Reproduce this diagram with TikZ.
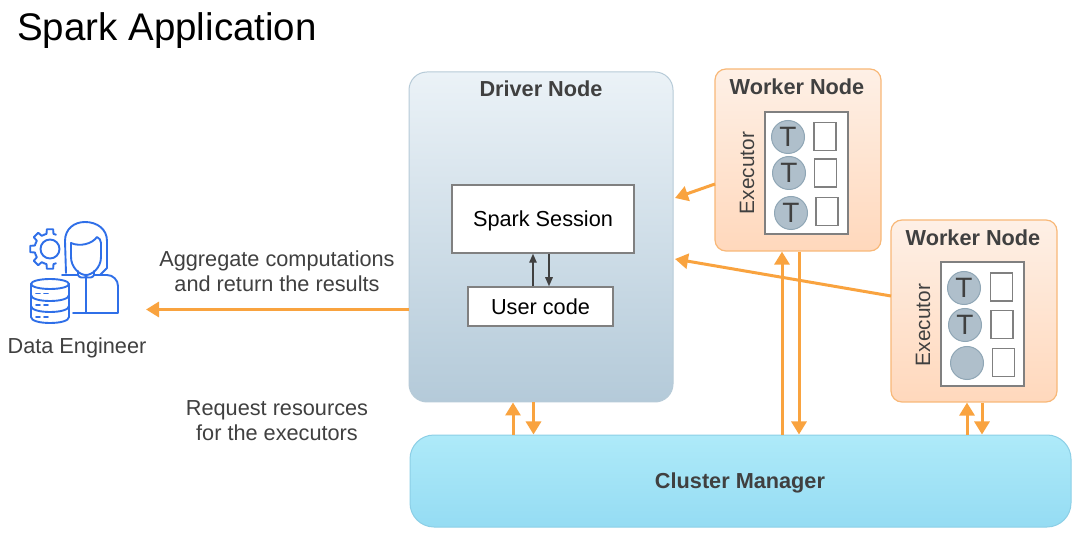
\documentclass[tikz,border=0pt]{standalone}
\usepackage{fontspec}
\setmainfont{Liberation Sans}
\usetikzlibrary{arrows.meta}
\definecolor{flow}{HTML}{F9A33F}
\definecolor{txt}{HTML}{404040}
\definecolor{icon}{HTML}{2F6FE8}
\definecolor{edge}{HTML}{808080}
\definecolor{driveredge}{HTML}{B7CBD8}
\definecolor{drivertop}{HTML}{EBF2F7}
\definecolor{driverbot}{HTML}{B4CAD9}
\definecolor{clusteredge}{HTML}{8CCFE6}
\definecolor{clustertop}{HTML}{AEEAF9}
\definecolor{clusterbot}{HTML}{95DCF3}
\definecolor{workeredge}{HTML}{F8B878}
\definecolor{workertop}{HTML}{FEF0E6}
\definecolor{workerbot}{HTML}{FFD8BC}
\definecolor{taskedge}{HTML}{8FA6B5}
\definecolor{taskfill}{HTML}{AFBFCB}
\tikzset{
  x=1pt,y=-1pt,
  box/.style={draw=edge,fill=white,line width=1.5pt,inner sep=0pt,font=\fontsize{21.7}{26}\selectfont,text=black,text height=16pt,text depth=0pt},
  driverbox/.style={draw=driveredge,rounded corners=18pt,top color=drivertop,bottom color=driverbot,line width=1pt,inner sep=0pt},
  clusterbox/.style={draw=clusteredge,rounded corners=24pt,top color=clustertop,bottom color=clusterbot,line width=1pt,inner sep=0pt},
  workerbox/.style={draw=workeredge,rounded corners=11pt,top color=workertop,bottom color=workerbot,line width=1.2pt,inner sep=0pt},
  execbox/.style={draw=edge,fill=white,line width=1.5pt,inner sep=0pt},
  slotbox/.style={draw=edge,fill=white,line width=1.5pt,inner sep=0pt,minimum width=22pt,minimum height=28pt},
  taskdot/.style={circle,draw=taskedge,fill=taskfill,line width=1pt,inner sep=0pt,minimum size=33pt,text=txt,font=\fontsize{28}{28}\selectfont},
  title/.style={font=\bfseries\fontsize{21.7}{26}\selectfont,text=txt,inner sep=0pt},
  label/.style={font=\fontsize{21.7}{24.8}\selectfont,text=txt,inner sep=0pt,align=center},
  execlabel/.style={font=\fontsize{20.8}{24}\selectfont,text=txt,inner sep=0pt,rotate=90},
  flowline/.style={draw=flow,line width=3pt,-{Triangle[length=13pt,width=15pt]}},
  thinflow/.style={draw=txt,line width=1.4pt,-{Triangle[length=9pt,width=7.5pt]}},
  iconline/.style={draw=icon,line width=1.9pt,line cap=round,line join=round},
}
\begin{document}
\begin{tikzpicture}
\useasboundingbox (0,0) rectangle (1079,534);
\fill[white] (0,0) rectangle (1079,534);

\node[anchor=west,inner sep=0pt,text=black,font=\fontsize{38.5}{42}\selectfont] (heading) at (17,31) {Spark Application};

% main boxes
\node[driverbox,minimum width=264pt,minimum height=330pt] (driver) at (541,237) {};
\node[title] (drivertitle) at (541,89) {Driver Node};
\node[box,minimum width=182pt,minimum height=68pt] (session) at (543,219) {Spark Session};
\node[box,minimum width=145pt,minimum height=39pt] (user) at (540.5,306.5) {User code};

\node[clusterbox,minimum width=661pt,minimum height=92pt] (cluster) at (740.5,481) {};
\node[title] (clustertitle) at (740,483) {Cluster Manager};

% worker 1
\node[workerbox,minimum width=166pt,minimum height=182pt] (w1) at (798,160) {};
\node[title] (w1title) at (797,87) {Worker Node};
\node[execlabel] (w1exec) at (747,173) {Executor};
\node[execbox,minimum width=83pt,minimum height=122pt] (w1box) at (806.5,173) {};
\node[taskdot] (w1t1) at (788,137) {T};
\node[taskdot] (w1t2) at (789,173) {T};
\node[taskdot] (w1t3) at (791,213) {T};
\node[slotbox] (w1s1) at (825,136.5) {};
\node[slotbox] (w1s2) at (825.5,173) {};
\node[slotbox] (w1s3) at (827,211.5) {};

% worker 2
\node[workerbox,minimum width=166pt,minimum height=182pt] (w2) at (974,311) {};
\node[title] (w2title) at (973,238) {Worker Node};
\node[execlabel] (w2exec) at (923,325) {Executor};
\node[execbox,minimum width=83pt,minimum height=124pt] (w2box) at (982.5,324) {};
\node[taskdot] (w2t1) at (964,288) {T};
\node[taskdot] (w2t2) at (965,325) {T};
\node[taskdot] (w2t3) at (967,363) {};
\node[slotbox] (w2s1) at (1001.5,287) {};
\node[slotbox] (w2s2) at (1002,324.5) {};
\node[slotbox] (w2s3) at (1003.5,362.5) {};

% labels
\node[label] (aggr) at (277,271) {Aggregate computations\\and return the results};
\node[label] (req) at (277,420.5) {Request resources\\for the executors};
\node[label] (de) at (77,348) {Data Engineer};

% connector columns
\coordinate (cu) at (533,0);
\coordinate (cd) at (549,0);
\coordinate (du) at (513,0);
\coordinate (dd) at (533.5,0);
\coordinate (wau) at (782,0);
\coordinate (wad) at (799,0);
\coordinate (wbu) at (967,0);
\coordinate (wbd) at (982,0);
\coordinate (deport) at (146,309.5);
\coordinate (w1out) at (715,184);
\coordinate (w1in) at (675,198);
\coordinate (w2out) at (891,296);
\coordinate (w2in) at (675,259);

% connectors
\draw[thinflow] (user.north -| cu) -- (session.south -| cu);
\draw[thinflow] (session.south -| cd) -- (user.north -| cd);
\draw[flowline] (w1out) -- (w1in);
\draw[flowline] (w2out) -- (w2in);
\draw[flowline] (driver.west |- deport) -- (deport);
\draw[flowline] (cluster.north -| du) -- (driver.south -| du);
\draw[flowline] (driver.south -| dd) -- (cluster.north -| dd);
\draw[flowline] (cluster.north -| wau) -- (w1.south -| wau);
\draw[flowline] (w1.south -| wad) -- (cluster.north -| wad);
\draw[flowline] (cluster.north -| wbu) -- (w2.south -| wbu);
\draw[flowline] (w2.south -| wbd) -- (cluster.north -| wbd);

% data engineer icon: gear
\begin{scope}[shift={(50,249)},iconline]
  \draw (0,0) circle (9.5);
  \foreach \a in {90,135,180,225,270}{
    \draw (\a-22.5:15.5) -- (\a-13:15.5) -- (\a-9:20) -- (\a+9:20) -- (\a+13:15.5) -- (\a+22.5:15.5);
  }
\end{scope}
% person
\draw[iconline] (66,273) -- (65,241) .. controls (65,229) and (74,222) .. (85,222)
  .. controls (97,222) and (107,229) .. (107,241) -- (107,268) -- (100,275);
\draw[iconline] (71,243) .. controls (80,247) and (92,244) .. (97,237)
  .. controls (99,238) and (101,240) .. (101,243) -- (101,257)
  .. controls (101,268) and (92,275) .. (86,275) .. controls (79,275) and (71,267) .. (71,257) -- cycle;
\draw[iconline] (78,271) -- (78,275) .. controls (79,278) and (83,278) .. (86,277)
  .. controls (89,278) and (93,278) .. (94,275) -- (94,271);
\draw[iconline] (62,275) -- (78,275);
\draw[iconline] (94,275) -- (107,275) .. controls (113,275) and (118,280) .. (118,286) -- (118,313) -- (73,313);
\draw[iconline] (86,277) -- (86,313);
% database
\begin{scope}[iconline]
  \draw (50,284) ellipse [x radius=19,y radius=5];
  \draw (31,284) -- (31,317) .. controls (31,325) and (69,325) .. (69,317) -- (69,284);
  \draw (31,295) .. controls (31,303) and (69,303) .. (69,295);
  \draw (31,306) .. controls (31,314) and (69,314) .. (69,306);
  \foreach \y in {293.5,305,317}{
    \draw (36,\y) -- (40,\y);
    \draw (44,\y) -- (48,\y);
  }
\end{scope}
\end{tikzpicture}
\end{document}
